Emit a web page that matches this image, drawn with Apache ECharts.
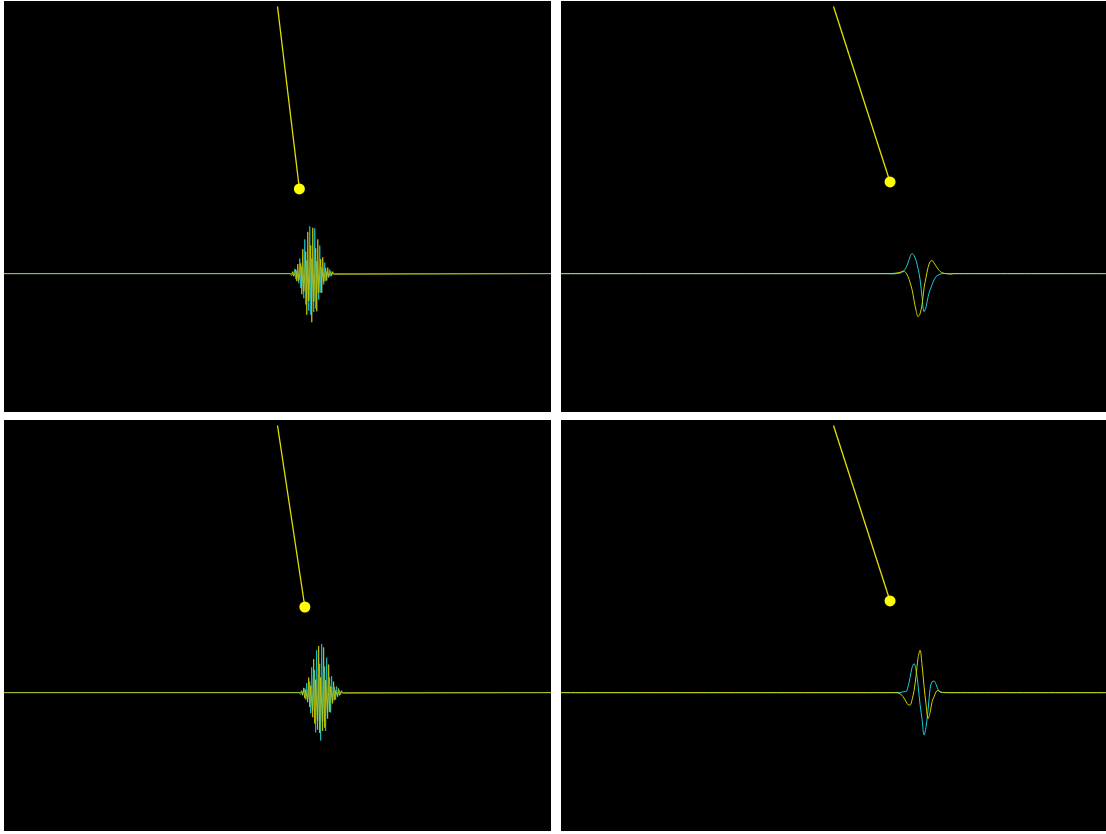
<!DOCTYPE html>
<html>
<head>
<meta charset="utf-8">
<script src="https://cdn.jsdelivr.net/npm/echarts@6/dist/echarts.min.js"></script>
<style>
  html, body { margin: 0; padding: 0; background: #ffffff; }
  #chart { width: 1106px; height: 834px; }
</style>
</head>
<body>
<div id="chart"></div>
<script>
// Four snapshots of a pendulum coupled to a wave packet on a string.
// Each panel shares the same frame: x in [-20, 20], y in [-10.1, 19.9].

// Pendulum pivot (same in every panel) and bob positions
const pivot = [0, 19.5];
const bobTL = [1.6, 6.18];
const bobTR = [4.15, 6.69];
const bobBL = [2.0, 6.25];
const bobBR = [4.15, 6.69];

// Wave sample grids: first x and spacing of the samples
const gridTL = { start: 0.9, step: 0.073 };
const gridBL = { start: 1.55, step: 0.073 };
const gridTR = { start: 3.71, step: 0.147 };
const gridBR = { start: 4.15, step: 0.147 };

// Top-left: narrow fast-oscillating packet (two components)
const cyanTL = [0, -0.05, 0.05, 0.05, -0.2, 0.35, -0.4, 0.2, 0.25, -0.7,
  1.1, -1.05, 0.5, 0.6, -1.8, 2.5, -2.25, 0.95, 1.0, -2.7,
  3.45, -3.0, 1.1, 1.1, -2.8, 3.3, -2.55, 0.9, 0.8, -1.9,
  2.05, -1.4, 0.45, 0.4, -0.8, 0.8, -0.55, 0.15, 0.15, -0.3,
  0.3, -0.2, 0.05, 0.05, -0.05, 0, 0];
const yellowTL = [0, 0.05, -0.15, 0.15, -0.15, 0, 0.3, -0.55, 0.7, -0.5,
  0, 0.75, -1.5, 1.8, -1.3, 0, 1.6, -3.0, 3.05, -2.0,
  0, 2.05, -3.55, 3.35, -2.05, 0, 1.85, -2.75, 2.5, -1.4,
  0, 1.05, -1.4, 1.2, -0.6, 0, 0.4, -0.5, 0.45, -0.2,
  0, 0.15, -0.15, 0.15, -0.05, 0, 0];

// Bottom-left: the same kind of packet, slightly further right
const cyanBL = [0, 0.05, -0.15, 0.15, -0.1, 0, 0.3, -0.5, 0.7, -0.55,
  0, 0.8, -1.5, 1.85, -1.3, 0, 1.65, -2.9, 3.1, -2.05,
  0, 2.1, -3.5, 3.55, -2.1, 0, 1.9, -2.8, 2.55, -1.45,
  0, 1.1, -1.45, 1.2, -0.65, 0, 0.4, -0.5, 0.45, -0.2,
  0, 0.15, -0.15, 0.15, -0.05, 0, 0];
const yellowBL = [0, -0.05, 0.05, 0.05, -0.2, 0.35, -0.4, 0.2, 0.25, -0.7,
  1.1, -1.05, 0.5, 0.6, -1.8, 2.45, -2.25, 0.95, 1.0, -2.7,
  3.4, -2.95, 1.1, 1.1, -2.8, 3.3, -2.55, 0.9, 0.8, -1.9,
  2.05, -1.4, 0.45, 0.4, -0.8, 0.8, -0.55, 0.15, 0.15, -0.3,
  0.3, -0.2, 0.05, 0.05, -0.05, 0, 0];

// Top-right: slow single-cycle pulse
const cyanTR = [0, 0, 0, -0.01, -0.02, -0.02, -0.01, 0.02, 0.04, 0.09,
  0.22, 0.44, 0.8, 1.24, 1.46, 1.31, 0.95, 0.36, -0.44, -1.75,
  -2.77, -2.41, -1.68, -1.17, -0.8, -0.44, -0.22, -0.11, -0.04, 0,
  0.01, 0.01, 0, 0, 0, 0];
const yellowTR = [0, 0, 0, 0, 0.01, 0.02, 0.04, 0.06, 0.09, 0.16,
  0.18, 0.04, -0.22, -0.66, -1.17, -1.97, -2.7, -3.14, -2.92, -2.26,
  -1.02, -0.26, 0.47, 0.88, 0.95, 0.77, 0.55, 0.33, 0.16, 0.07,
  0.02, 0, -0.02, -0.04, -0.02, 0];

// Bottom-right: slow pulse a little later in time
const cyanBR = [0, 0, 0, 0, 0, 0, 0.04, 0.07, 0.07, 0.44,
  1.1, 1.83, 2.12, 1.61, 0.51, -0.88, -1.97, -3.1, -2.48, -1.24,
  0.29, 0.8, 0.84, 0.58, 0.22, 0.04, 0, 0.02, 0, 0, 0];
const yellowBR = [0, 0, 0, 0, -0.02, -0.09, -0.2, -0.4, -0.66, -0.88,
  -0.91, -0.51, 0.15, 1.24, 2.55, 3.1, 1.97, 0.44, -0.88, -1.9,
  -1.46, -0.66, -0.29, 0.07, 0.15, 0.07, 0.02, 0, 0, 0, 0];

const X_MIN = -20, X_MAX = 20, Y_MIN = -10.1, Y_MAX = 19.9;

const COLOR_CYAN = '#1ccbdb';
const COLOR_YELLOW = '#d4d000';
const COLOR_ROD = '#e2e000';
const COLOR_BOB = '#ffff00';

const panels = [
  { box: { left: 4, top: 1, width: 547, height: 411 }, bob: bobTL, grid: gridTL, cyan: cyanTL, yellow: yellowTL, smooth: false, width: 0.8 },
  { box: { left: 561, top: 1, width: 545, height: 411 }, bob: bobTR, grid: gridTR, cyan: cyanTR, yellow: yellowTR, smooth: 0.35, width: 1 },
  { box: { left: 4, top: 420, width: 547, height: 411 }, bob: bobBL, grid: gridBL, cyan: cyanBL, yellow: yellowBL, smooth: false, width: 0.8 },
  { box: { left: 561, top: 420, width: 545, height: 411 }, bob: bobBR, grid: gridBR, cyan: cyanBR, yellow: yellowBR, smooth: 0.35, width: 1 }
];

// Turn a sampled packet into [x, y] pairs, padded with the flat string on both sides
function wavePoints(values, g) {
  const pts = [[X_MIN, 0]];
  values.forEach((v, i) => pts.push([g.start + i * g.step, v]));
  pts.push([X_MAX, 0]);
  return pts;
}

const grids = [], xAxes = [], yAxes = [], series = [];
panels.forEach((p, k) => {
  grids.push(Object.assign({ show: true, backgroundColor: '#000000', borderWidth: 0 }, p.box));
  xAxes.push({ gridIndex: k, type: 'value', min: X_MIN, max: X_MAX, show: false });
  yAxes.push({ gridIndex: k, type: 'value', min: Y_MIN, max: Y_MAX, show: false });
  const base = { xAxisIndex: k, yAxisIndex: k, silent: true, animation: false };
  series.push(Object.assign({
    type: 'line', data: wavePoints(p.cyan, p.grid), showSymbol: false, smooth: p.smooth,
    lineStyle: { color: COLOR_CYAN, width: p.width }, z: 2
  }, base));
  series.push(Object.assign({
    type: 'line', data: wavePoints(p.yellow, p.grid), showSymbol: false, smooth: p.smooth,
    lineStyle: { color: COLOR_YELLOW, width: p.width }, z: 3
  }, base));
  series.push(Object.assign({
    type: 'line', data: [pivot, p.bob], showSymbol: false,
    lineStyle: { color: COLOR_ROD, width: 1.3 }, z: 4
  }, base));
  series.push(Object.assign({
    type: 'scatter', data: [p.bob], symbol: 'circle', symbolSize: 11,
    itemStyle: { color: COLOR_BOB, opacity: 1 }, z: 5
  }, base));
});

const chart = echarts.init(document.getElementById('chart'), null, { renderer: 'canvas' });
chart.setOption({
  backgroundColor: '#ffffff',
  animation: false,
  grid: grids,
  xAxis: xAxes,
  yAxis: yAxes,
  series: series
});
</script>
</body>
</html>
